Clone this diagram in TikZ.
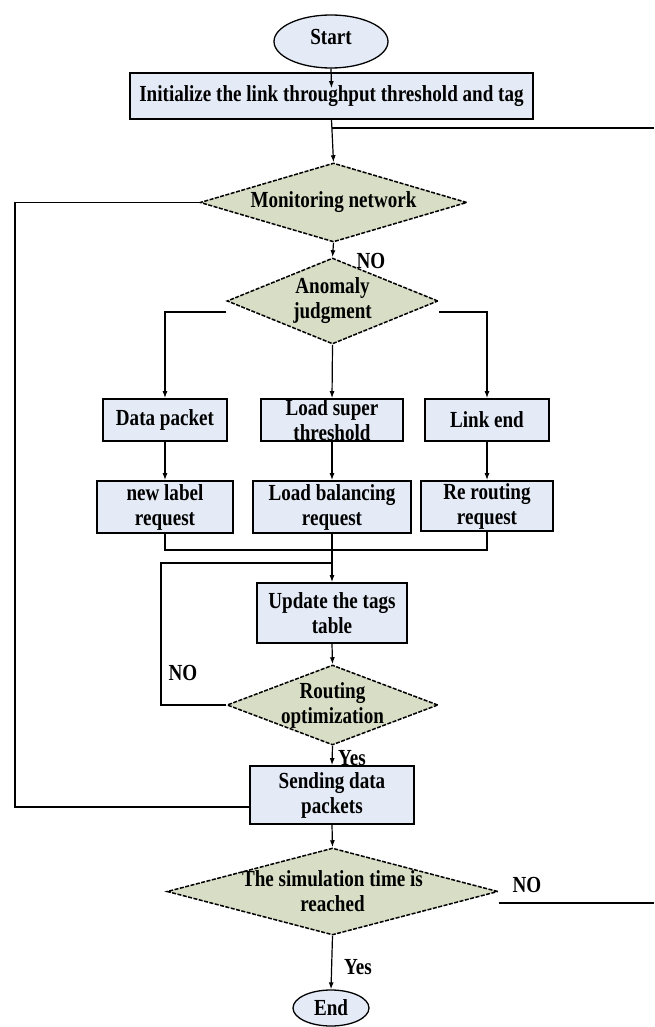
\documentclass[tikz,border=0pt]{standalone}
\usepackage{fontspec}
\setmainfont{Liberation Serif}[FakeStretch=0.83]
\usetikzlibrary{shapes.geometric,arrows.meta}
\definecolor{boxfill}{HTML}{E4EBF6}
\definecolor{dfill}{HTML}{D8DDC5}
\begin{document}
\begin{tikzpicture}[x=1pt,y=-1pt,
  txt/.style={font=\fontsize{23}{25}\selectfont\bfseries,align=center,inner sep=0pt,text=black},
  boxshape/.style={draw=black,line width=1.7pt,fill=boxfill,rectangle,inner sep=0pt},
  dshape/.style={draw=black,line width=1.5pt,dash pattern=on 4pt off 1.5pt,fill=dfill,diamond,inner sep=0pt},
  eshape/.style={draw=black,line width=1.3pt,fill=boxfill,ellipse,inner sep=0pt},
  conn/.style={line width=1.2pt,draw=black},
  arr/.style={conn,-{Latex[length=7pt,width=5pt]}}
]
\useasboundingbox (0,0) rectangle (654,1027);

% shapes
\node[eshape,minimum width=114pt,minimum height=53pt,label={[txt,yshift=4pt]center:Start}] (start) at (331,41.5) {};
\node[boxshape,minimum width=403pt,minimum height=46pt,label={[txt]center:Initialize the link throughput threshold and tag}] (init) at (331.5,96) {};
\node[dshape,minimum width=267pt,minimum height=79pt,label={[txt]center:Monitoring network}] (mon) at (333.5,202.5) {};
\node[dshape,minimum width=211pt,minimum height=86pt,label={[txt]center:Anomaly\\judgment}] (anom) at (332.5,301) {};

\node[boxshape,minimum width=124pt,minimum height=42pt,label={[txt]center:Data packet}] (dp) at (165,420) {};
\node[boxshape,minimum width=142pt,minimum height=42pt,label={[txt]center:Load super\\threshold}] (lst) at (332,420) {};
\node[boxshape,minimum width=124pt,minimum height=42pt,label={[txt]center:Link end}] (le) at (487,420) {};

\node[boxshape,minimum width=136pt,minimum height=52pt,label={[txt]center:new label\\request}] (nl) at (165,507) {};
\node[boxshape,minimum width=158pt,minimum height=52pt,label={[txt]center:Load balancing\\request}] (lb) at (332,507) {};
\node[boxshape,minimum width=132pt,minimum height=50pt,label={[txt]center:Re routing\\request}] (rr) at (487,506) {};

\node[boxshape,minimum width=150pt,minimum height=60pt,label={[txt]center:Update the tags\\table}] (upd) at (332,613) {};
\node[dshape,minimum width=211pt,minimum height=80pt,label={[txt]center:Routing\\optimization}] (rout) at (332.5,705) {};
\node[boxshape,minimum width=164pt,minimum height=58pt,label={[txt]center:Sending data\\packets}] (send) at (332,795) {};
\node[dshape,minimum width=331pt,minimum height=87pt,label={[txt]center:The simulation time is\\reached}] (sim) at (332.5,891.5) {};
\node[eshape,minimum width=76pt,minimum height=36pt,label={[txt]center:End}] (end) at (331,1008) {};

% free text labels
\node[txt] (no1) at (371,261) {NO};
\node[txt] (no2) at (183,673) {NO};
\node[txt] (yes1) at (352,758) {Yes};
\node[txt] (no3) at (527,885) {NO};
\node[txt] (yes2) at (358,967) {Yes};

% helper coordinates
\coordinate (jr) at (332,128);
\coordinate (r1) at (654,128);
\coordinate (l1) at (15,202.5);
\coordinate (l2) at (15,807);
\coordinate (jc) at (332,550);
\coordinate (lc) at (161,563);
\coordinate (lp) at (332,563);
\coordinate (r2) at (654,903);

% connectors
\draw[arr] (start.south) -- ([yshift=-16pt]init.north);
\draw[arr] (init.south) -- (mon.north);
\draw[conn] (jr) -- (r1);
\draw[conn] (mon.west) -- (l1) -- (l2) -- (l2 -| send.west);
\draw[arr] (mon.south) -- (anom.north);
\draw[arr] ([yshift=-11pt]anom.west) -| (dp.north);
\draw[arr] ([yshift=-11pt]anom.east) -| (le.north);
\draw[arr] (anom.south) -- (lst.north);
\draw[arr] (dp.south) -- (nl.north);
\draw[arr] (lst.south) -- (lb.north);
\draw[arr] (le.south) -- (rr.north);
\draw[conn] (nl.south) |- (jc) -| (rr.south);
\draw[arr] (lb.south) -- (upd.north);
\draw[conn] (rout.west) -| (lc) -- (lp);
\draw[arr] (upd.south) -- (rout.north);
\draw[arr] (rout.south) -- (send.north);
\draw[arr] (send.south) -- (sim.north);
\draw[conn] ([yshift=-11.5pt]sim.east) -- (r2);
\draw[arr] (sim.south) -- (end.north);
\end{tikzpicture}
\end{document}
